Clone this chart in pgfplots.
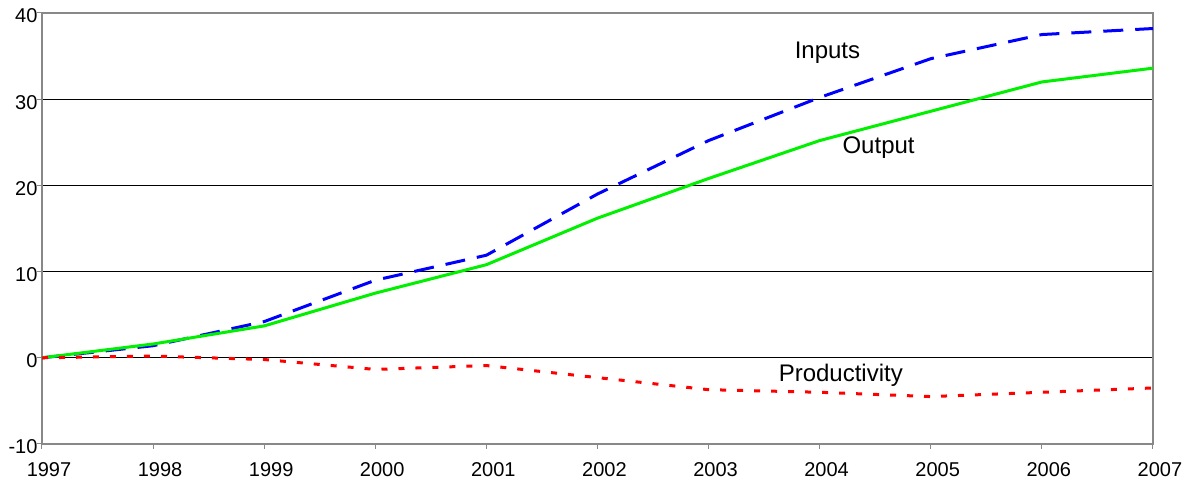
\documentclass[border=0pt]{standalone}
\usepackage{pgfplots}
\pgfplotsset{compat=1.18}
\usepackage{fontspec}
\setmainfont{Liberation Sans}
\definecolor{framegray}{RGB}{136,136,136}
\definecolor{lineblue}{RGB}{0,0,255}
\definecolor{linegreen}{RGB}{0,240,0}
\definecolor{linered}{RGB}{255,0,0}

\begin{document}
\begin{tikzpicture}
\useasboundingbox (-42pt,-37pt) rectangle (1153pt,444pt);
\begin{axis}[
    scale only axis,
    width=1111pt, height=431pt,
    xmin=1997, xmax=2007,
    ymin=-10, ymax=40,
    xtick={1997,...,2007},
    ytick={-10,0,...,40},
    /pgf/number format/1000 sep={},
    /pgf/number format/assume math mode=true,
    xtick pos=bottom, ytick pos=left,
    tick align=outside,
    major tick length=5pt,
    tick style={framegray, line width=1pt},
    axis line style={framegray, line width=1.2pt},
    ymajorgrids=true,
    grid style={black, line width=0.8pt},
    ticklabel style={font=\fontsize{20}{24}\selectfont},
    xticklabel style={xshift=7pt, yshift=-10pt},
    yticklabel style={xshift=4pt, yshift=-3pt},
    clip=false,
]
% Inputs
\addplot[lineblue, line width=3pt, dash pattern=on 20pt off 12pt] coordinates {
    (1997,0) (1998,1.4) (1999,4.2) (2000,9.0) (2001,11.9) (2002,19.0)
    (2003,25.2) (2004,30.2) (2005,34.7) (2006,37.5) (2007,38.2)};
% Output
\addplot[linegreen, line width=3pt] coordinates {
    (1997,0) (1998,1.6) (1999,3.7) (2000,7.5) (2001,10.8) (2002,16.2)
    (2003,20.8) (2004,25.2) (2005,28.6) (2006,32.0) (2007,33.6)};
% Productivity
\addplot[linered, line width=3pt, dash pattern=on 6pt off 11pt] coordinates {
    (1997,0) (1998,0.2) (1999,-0.2) (2000,-1.35) (2001,-0.9) (2002,-2.3)
    (2003,-3.7) (2004,-4.0) (2005,-4.5) (2006,-4.0) (2007,-3.5)};
\node[font=\fontsize{24}{28}\selectfont] at (axis cs:2004.07,35.4) {Inputs};
\node[font=\fontsize{24}{28}\selectfont] at (axis cs:2004.53,24.4) {Output};
\node[font=\fontsize{24}{28}\selectfont] at (axis cs:2004.19,-2.0) {Productivity};
\end{axis}
\end{tikzpicture}
\end{document}
